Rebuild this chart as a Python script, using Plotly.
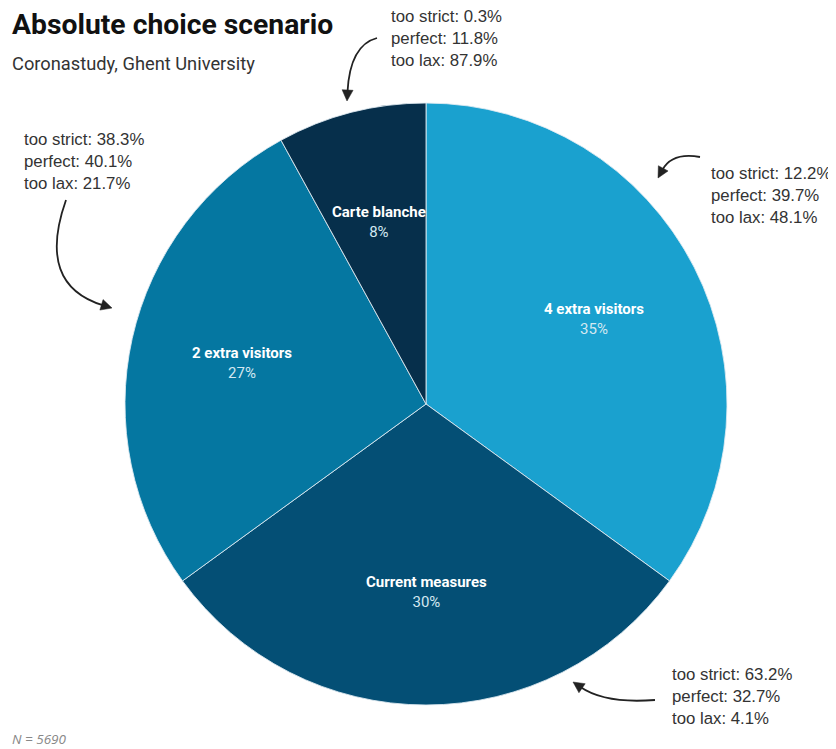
import math
import plotly.graph_objects as go

# ---- data ----
categories = ["4 extra visitors", "Current measures", "2 extra visitors", "Carte blanche"]
shares = [35, 30, 27, 8]
too_strict = [12.2, 63.2, 38.3, 0.3]
perfect = [39.7, 32.7, 40.1, 11.8]
too_lax = [48.1, 4.1, 21.7, 87.9]
colors = ["#1aa1cf", "#044f75", "#0577a1", "#062f4b"]

title = "Absolute choice scenario"
subtitle = "Coronastudy, Ghent University"
footnote = "N = 5690"

OFF = 8  # page body margin
W, H = 828, 741
CX, CY, R = 426, 404, 301


def px(x):
    return (x - OFF) / W


def py(y):
    return 1 - (y - OFF) / H


fig = go.Figure()
fig.add_trace(go.Pie(
    labels=categories, values=shares, sort=False, direction="clockwise", rotation=0,
    marker=dict(colors=colors, line=dict(color="rgba(225,235,242,0.85)", width=1)),
    textinfo="none", hoverinfo="label+percent", showlegend=False,
    domain=dict(x=[px(CX - R), px(CX + R)], y=[py(CY + R), py(CY - R)]),
))

annotations = []
# slice labels, placed along each slice's bisector
total = sum(shares)
cum = 0
for cat, v in zip(categories, shares):
    mid = (cum + v / 2) / total * 2 * math.pi
    cum += v
    rr = 0.625 * R
    lx = CX + rr * math.sin(mid)
    ly = CY - rr * math.cos(mid)
    annotations.append(dict(
        x=px(lx), y=py(ly), xref="paper", yref="paper", showarrow=False,
        xanchor="center", yanchor="middle",
        text=f"<b>{cat}</b><br><span style='color:#d3e8f1'>{round(v / total * 100)}%</span>",
        font=dict(family="Roboto", size=15, color="white"), align="center",
    ))

# callout text blocks (4 extra, current, 2 extra, carte blanche)
callout_pos = [(710, 196), (671, 696), (23, 161), (390, 38)]
for i, (x, y) in enumerate(callout_pos):
    annotations.append(dict(
        x=px(x), y=py(y), xref="paper", yref="paper", xanchor="left", yanchor="middle",
        showarrow=False, align="left", xshift=-1,
        text=f"too strict: {too_strict[i]}%<br>perfect: {perfect[i]}%<br>too lax: {too_lax[i]}%",
        font=dict(family="Liberation Sans", size=16.8, color="#333333"),
    ))

annotations.append(dict(x=px(12), y=py(25), xref="paper", yref="paper", xanchor="left", yanchor="middle",
                        showarrow=False, text=f"<b>{title}</b>", xshift=-2,
                        font=dict(family="Roboto", size=28.3, color="#111111")))
annotations.append(dict(x=px(12), y=py(63), xref="paper", yref="paper", xanchor="left", yanchor="middle",
                        showarrow=False, text=subtitle, xshift=-2,
                        font=dict(family="Roboto", size=18.3, color="#333333")))
annotations.append(dict(x=px(12), y=py(739), xref="paper", yref="paper", xanchor="left", yanchor="middle",
                        showarrow=False, text=f"<i>{footnote}</i>", xshift=-2,
                        font=dict(family="Open Sans", size=13.5, color="#888888")))

# curved arrows (start, control, tip) in pixels
arrows = [
    ((700, 157), (672, 152), (658, 178)),
    ((655, 700), (605, 704), (573, 682)),
    ((66, 200), (36, 285), (112, 308)),
    ((377, 38), (350, 45), (347, 101)),
]
shapes = []
for (s, c, e) in arrows:
    dx, dy = e[0] - c[0], e[1] - c[1]
    L = math.hypot(dx, dy)
    ux, uy = dx / L, dy / L
    hl, hw = 11, 5.5
    bx, by = e[0] - ux * hl, e[1] - uy * hl
    path = f"M {px(s[0])},{py(s[1])} Q {px(c[0])},{py(c[1])} {px(bx + ux*2)},{py(by + uy*2)}"
    shapes.append(dict(type="path", path=path, xref="paper", yref="paper",
                       line=dict(color="#222222", width=1.8)))
    nx, ny = -uy, ux
    tri = (f"M {px(e[0])},{py(e[1])} L {px(bx + nx*hw)},{py(by + ny*hw)} "
           f"L {px(bx - nx*hw)},{py(by - ny*hw)} Z")
    shapes.append(dict(type="path", path=tri, xref="paper", yref="paper",
                       fillcolor="#222222", line=dict(color="#222222", width=0.5)))

fig.update_layout(
    width=W, height=H, margin=dict(l=0, r=0, t=0, b=0),
    paper_bgcolor="white", plot_bgcolor="white",
    annotations=annotations, shapes=shapes,
)

fig.write_html("out.html")
